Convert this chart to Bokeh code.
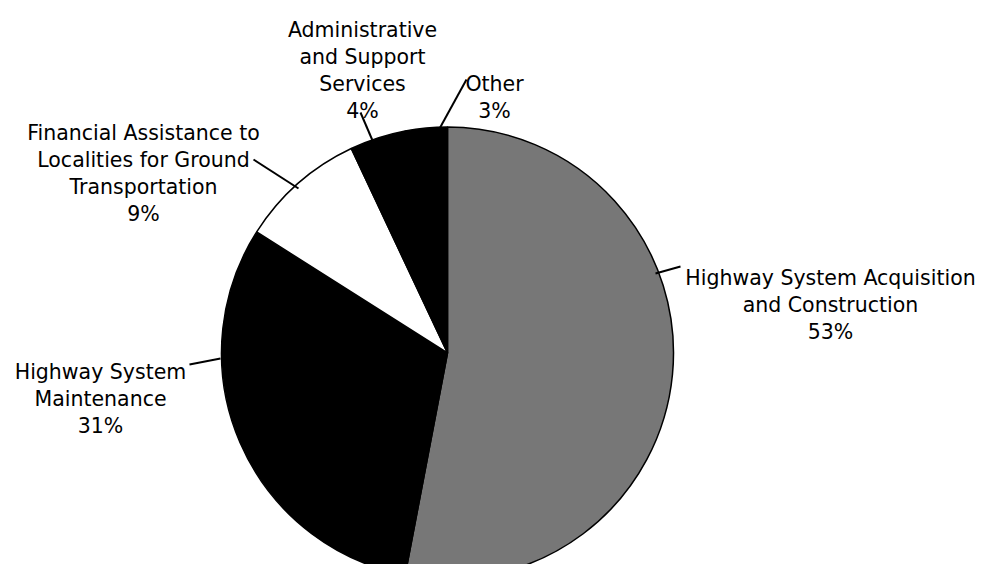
import math
from bokeh.plotting import figure
from bokeh.models import Range1d, ColumnDataSource
from bokeh.core.properties import value
from bokeh.embed import file_html
from bokeh.resources import INLINE

# ---- data ----
categories = [
    "Highway System Acquisition and Construction",
    "Highway System Maintenance",
    "Financial Assistance to Localities for Ground Transportation",
    "Administrative and Support Services",
    "Other",
]
shares = [53, 31, 9, 4, 3]
label_texts = [
    "Highway System Acquisition\nand Construction",
    "Highway System\nMaintenance",
    "Financial Assistance to\nLocalities for Ground\nTransportation",
    "Administrative\nand Support\nServices",
    "Other",
]

# ---- styles / layout (image pixel coords, y downward) ----
slice_colors = ["#777777", "#000000", "#ffffff", "#000000", "#000000"]
cx, cy, R = 447, 352.5, 226
label_cx = [830, 100, 143, 362, 494]
label_base = [277, 371, 132, 29, 83]
line_step = 27
leader = [  # (x0, y0, x1, y1)
    (655, 273, 680, 266),
    (189, 364, 220, 358),
    (253, 159, 298, 188),
    (360, 112, 372, 140),
    (466, 79, 438, 130),
]

p = figure(width=984, height=564, x_range=Range1d(0, 984), y_range=Range1d(-564, 0),
           output_backend="svg", toolbar_location=None, min_border=0,
           x_axis_type=None, y_axis_type=None)
p.xgrid.visible = False
p.ygrid.visible = False
p.outline_line_color = None
p.background_fill_color = "white"
p.border_fill_color = "white"

total = sum(shares)
starts, ends = [], []
cum = 0
for s in shares:
    starts.append(math.pi / 2 - 2 * math.pi * cum / total)
    cum += s
    ends.append(math.pi / 2 - 2 * math.pi * cum / total)

src = ColumnDataSource(dict(cat=categories, share=shares, start=starts, end=ends,
                            color=slice_colors))
p.wedge(x=cx, y=-cy, radius=R, start_angle="start", end_angle="end", direction="clock",
        fill_color="color", line_color="black", line_width=1.5, source=src)

# leader lines
p.segment(x0=[l[0] for l in leader], y0=[-l[1] for l in leader],
          x1=[l[2] for l in leader], y1=[-l[3] for l in leader],
          line_color="black", line_width=2)

# labels
tx, ty, tt = [], [], []
for i, lab in enumerate(label_texts):
    lines = lab.split("\n") + [f"{shares[i]}%"]
    for k, ln in enumerate(lines):
        tx.append(label_cx[i])
        ty.append(-(label_base[i] + k * line_step))
        tt.append(ln)
p.text(x=tx, y=ty, text=tt, text_align="center", text_baseline="alphabetic",
       text_font=value("DejaVu Sans"), text_font_size="20.5px", text_color="black")

open("out.html", "w").write(file_html(p, INLINE))
